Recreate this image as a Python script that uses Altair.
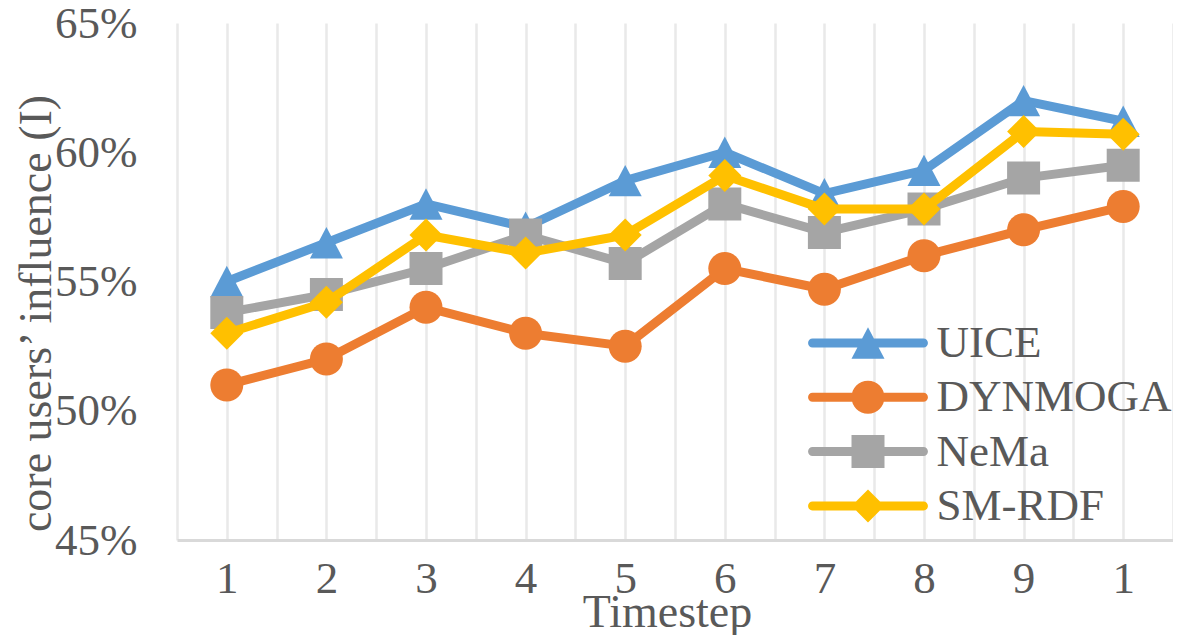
import json
import altair as alt
import pandas as pd

# ---- data ----
timesteps = [1, 2, 3, 4, 5, 6, 7, 8, 9, 10]
tick_labels = ["1", "2", "3", "4", "5", "6", "7", "8", "9", "1"]
series_names = ["UICE", "DYNMOGA", "NeMa", "SM-RDF"]
uice = [55.0, 56.5, 58.0, 57.1, 58.9, 60.0, 58.4, 59.3, 62.0, 61.2]
dynmoga = [51.0, 52.0, 54.0, 53.0, 52.5, 55.5, 54.7, 56.0, 57.0, 57.9]
nema = [53.8, 54.5, 55.5, 56.8, 55.7, 58.0, 56.9, 57.8, 59.0, 59.5]
smrdf = [53.0, 54.2, 56.8, 56.1, 56.8, 59.1, 57.8, 57.8, 60.8, 60.7]
y_ticks = [45, 50, 55, 60, 65]

# ---- styles ----
colors = ["#5B9BD5", "#ED7D31", "#A5A5A5", "#FFC000"]
TXT = "#595959"
FONT = "Liberation Serif"

tri = "M0,-0.95L1,0.95L-1,0.95Z"
circ = "M1,0A1,1,0,1,1,-1,0A1,1,0,1,1,1,0Z"
sq = "M-1,-1L1,-1L1,1L-1,1Z"
dia = "M0,-1L1,0L0,1L-1,0Z"
marker_paths = [tri, circ, sq, dia]
bar = ("M-3.36,-0.273L3.36,-0.273A0.273,0.273,0,0,1,3.36,0.273"
       "L-3.36,0.273A0.273,0.273,0,0,1,-3.36,-0.273Z")
legend_paths = [bar + p for p in marker_paths]

rows = []
for name, vals in zip(series_names, [uice, dynmoga, nema, smrdf]):
    for t, v in zip(timesteps, vals):
        rows.append({"series": name, "t": t, "v": v})
df = pd.DataFrame(rows)

grid_vals = sorted(set([t - 0.5 for t in timesteps] + timesteps + [timesteps[-1] + 0.5]))
label_expr = ("datum.value % 1 == 0 ? " + json.dumps(tick_labels) +
              "[datum.value - 1] : ''")

x_enc = alt.X(
    "t:Q",
    scale=alt.Scale(domain=[timesteps[0] - 0.5, timesteps[-1] + 0.5], nice=False, zero=False),
    axis=alt.Axis(
        values=grid_vals, labelExpr=label_expr, grid=True, gridColor="#e9e9e9",
        gridWidth=2.5, domain=True, domainColor="#d9d9d9", domainWidth=3,
        ticks=False, tickSize=0, labelFont=FONT, labelFontSize=45, labelColor=TXT,
        labelPadding=52, labelBaseline="alphabetic", labelOverlap=False, labelFlush=False,
        titleFont=FONT, titleFontSize=46, titleColor=TXT, titleFontWeight="normal",
        titleX=490, titleY=86, titleAlign="center", titleBaseline="alphabetic",
    ),
    title="Timestep",
)
y_enc = alt.Y(
    "v:Q",
    scale=alt.Scale(domain=[y_ticks[0], y_ticks[-1]], nice=False, zero=False),
    axis=alt.Axis(
        values=y_ticks, labelExpr="datum.value + '%'", grid=False, domain=False,
        ticks=False, tickSize=0, labelFont=FONT, labelFontSize=45, labelColor=TXT,
        labelPadding=40, labelOverlap=False,
        titleFont=FONT, titleFontSize=46, titleColor=TXT, titleFontWeight="normal",
        titleAngle=270, titleX=-141, titleY=290, titleAlign="center", titleBaseline="middle",
    ),
    title="core users’ influence (I)",
)
color_scale = alt.Scale(domain=series_names, range=colors)

layers = []
for name in series_names:
    base = alt.Chart(df).transform_filter(alt.datum.series == name)
    line = base.mark_line(strokeWidth=9, strokeCap="round", strokeJoin="round").encode(
        x=x_enc, y=y_enc, color=alt.Color("series:N", scale=color_scale, legend=None)
    )
    pts = base.mark_point(filled=True, size=1089, opacity=1, strokeWidth=0).encode(
        x=x_enc, y=y_enc,
        color=alt.Color("series:N", scale=color_scale, legend=None),
        shape=alt.Shape("series:N", scale=alt.Scale(domain=series_names, range=marker_paths), legend=None),
    )
    layers += [line, pts]

leg = alt.Legend(
    title=None, orient="none", legendX=668.5, legendY=297.5, padding=0,
    labelFont=FONT, labelFontSize=45, labelColor=TXT, labelOffset=46,
    rowPadding=8.3, symbolSize=1089, symbolStrokeWidth=0, symbolOpacity=1, labelLimit=400,
)
legend_layer = alt.Chart(df).mark_point(filled=True, size=1089, opacity=0).encode(
    x=x_enc, y=y_enc,
    color=alt.Color("series:N", scale=color_scale, legend=leg),
    shape=alt.Shape("series:N", scale=alt.Scale(domain=series_names, range=legend_paths), legend=leg),
)

chart = (
    alt.layer(*layers, legend_layer)
    .resolve_scale(color="independent", shape="independent")
    .properties(
        width=996, height=517,
        padding={"left": 169, "top": 15, "right": 0, "bottom": 95},
        autosize=alt.AutoSizeParams(type="none"),
        background="white",
    )
    .configure_view(stroke=None)
)

chart.save("out.html", embed_options={"renderer": "svg", "actions": False})
